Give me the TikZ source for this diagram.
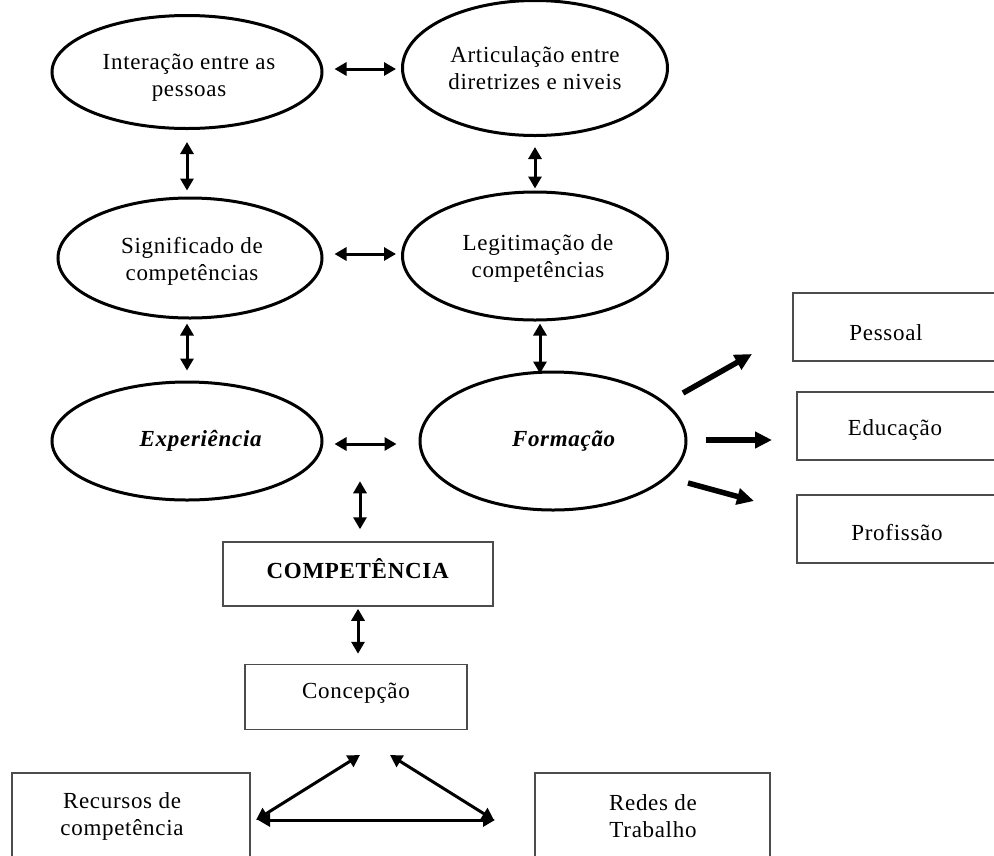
\documentclass[tikz,border=0pt]{standalone}
\usepackage{fontspec}
\setmainfont{Liberation Serif}
\usetikzlibrary{shapes.geometric,arrows.meta}
\newcommand{\reffont}{\fontsize{23}{27}\selectfont\addfontfeature{LetterSpace=3}}
\begin{document}
\begin{tikzpicture}[x=1pt,y=-1pt,
  ell/.style={ellipse,draw,line width=3pt,inner sep=0pt,align=center,font=\reffont},
  box/.style={rectangle,draw=black!70,line width=1.5pt,inner sep=0pt,align=center,font=\reffont},
  txt/.style={inner sep=0pt,align=center,font=\reffont},
  dbl/.style={line width=3pt,{Triangle[length=12pt,width=13pt]}-{Triangle[length=12pt,width=13pt]}},
  sarr/.style={line width=5.5pt,-{Triangle[length=17pt,width=16pt]}}]
\useasboundingbox (0,0) rectangle (994,855);
\clip (0,0) rectangle (994,855);
\fill[white] (0,0) rectangle (994,855);

% ellipses
\node[ell,minimum width=270pt,minimum height=113pt] (e1) at (187,72) {};
\node[txt] (e1t) at (189,78) {Interação entre as\\pessoas};
\node[ell,minimum width=265pt,minimum height=135pt] (e2) at (535,68) {Articulação entre\\diretrizes e niveis};
\node[ell,minimum width=264pt,minimum height=120pt] (e3) at (190,258) {};
\node[txt] (e3t) at (192,261) {Significado de\\competências};
\node[ell,minimum width=265pt,minimum height=128pt] (e4) at (535,256) {};
\node[txt] (e4t) at (538,258) {Legitimação de\\competências};
\node[ell,minimum width=270pt,minimum height=118pt] (e5) at (187,441) {\hspace*{28pt}\textbf{\textit{Experiência}}};
\node[ell,minimum width=266pt,minimum height=138pt] (e6) at (553,441) {\hspace*{22pt}\textbf{\textit{Formação}}};

% boxes
\node[box,minimum width=270pt,minimum height=64pt] (comp) at (358,574) {};
\node[txt] (compt) at (358,569) {\textbf{COMPETÊNCIA}};
\node[box,minimum width=222pt,minimum height=65pt] (conc) at (356,697) {};
\node[txt] (conct) at (356,693) {Concepção};
\node[box,minimum width=217pt,minimum height=68pt] (pess) at (901.5,327) {};
\node[txt] (pesst) at (886,333) {Pessoal};
\node[box,minimum width=213pt,minimum height=68pt] (educ) at (903.5,426) {};
\node[txt] (educt) at (895,430) {Educação};
\node[box,minimum width=213pt,minimum height=68pt] (prof) at (903.5,529) {};
\node[txt] (proft) at (897,533) {Profissão};
\node[box,minimum width=238pt,minimum height=110pt] (rec) at (131,828) {};
\node[box,minimum width=235pt,minimum height=110pt] (red) at (652.5,828) {};
\node[txt] (rect) at (122,816) {Recursos de\\competência};
\node[txt] (redt) at (653,816) {Redes de\\Trabalho};

% double arrows between ellipses
\draw[dbl,shorten <=11pt,shorten >=5pt] ([yshift=3pt]e1.east) -- ([yshift=3pt]e1.east -| e2.west);
\draw[dbl,shorten <=11pt,shorten >=5pt] ([yshift=4pt]e3.east) -- ([yshift=4pt]e3.east -| e4.west);
\draw[dbl,shorten <=11pt,shorten >=22pt] ([yshift=-3pt]e5.east) -- ([yshift=-3pt]e5.east -| e6.west);
\draw[dbl,shorten <=12pt,shorten >=6pt] (e1.south) -- (e1.south |- e3.north);
\draw[dbl,shorten <=10pt,shorten >=2pt] (e2.south) -- (e2.south |- e4.north);
\draw[dbl,shorten <=4pt,shorten >=10pt] ([xshift=-3pt]e3.south) -- ([xshift=-3pt]e3.south |- e5.north);
\draw[dbl,shorten <=2pt,shorten >=-3pt] ([xshift=5pt]e4.south) -- ([xshift=5pt]e4.south |- e6.north);

% competencia links
\draw[dbl,shorten <=12pt] ([xshift=2pt]comp.north) -- ++(0,-60);
\draw[dbl,shorten <=2pt,shorten >=10pt] (comp.south) -- (comp.south |- conc.north);

% triangle
\coordinate (ta) at (360,755);
\coordinate (tb) at (390,755);
\coordinate (tl) at (256,820);
\coordinate (tr) at (494,820);
\draw[dbl] (ta) -- (tl);
\draw[dbl] (tb) -- (tr);
\draw[dbl] ([xshift=2pt]tl) -- ([xshift=1pt]tr);

% formação outputs
\coordinate (f1s) at (683,393); \coordinate (f1e) at (752,354);
\coordinate (f2s) at (706,440); \coordinate (f2e) at (772,440);
\coordinate (f3s) at (688,483); \coordinate (f3e) at (754,501);
\draw[sarr] (f1s) -- (f1e);
\draw[sarr] (f2s) -- (f2e);
\draw[sarr] (f3s) -- (f3e);
\end{tikzpicture}
\end{document}
